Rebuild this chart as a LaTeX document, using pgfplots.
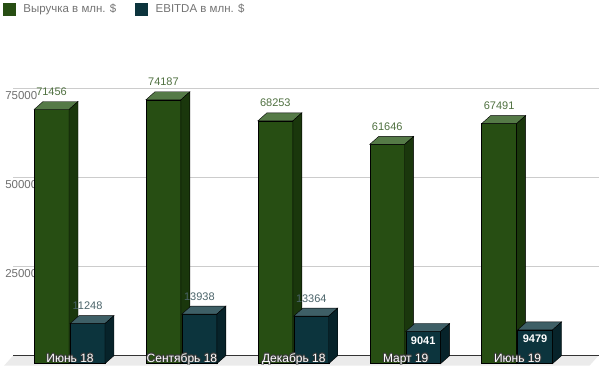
\documentclass[border=0pt]{standalone}
\usepackage{pgfplots}
\pgfplotsset{compat=1.18}
\usepackage{pgfplotstable}
\usepackage{fontspec}
\setmainfont{Liberation Sans}
\definecolor{gfront}{HTML}{274E13}
\definecolor{gtop}{HTML}{557A47}
\definecolor{gside}{HTML}{1A370C}
\definecolor{tfront}{HTML}{0C343D}
\definecolor{ttop}{HTML}{3E5F66}
\definecolor{tside}{HTML}{07232A}
\definecolor{glab}{HTML}{4F7040}
\definecolor{tlab}{HTML}{4A6369}
\definecolor{gridc}{HTML}{CCCCCC}
\definecolor{floorc}{HTML}{EBEBEB}
\definecolor{basec}{HTML}{333333}
\definecolor{labgray}{HTML}{707070}
\definecolor{legc}{HTML}{737373}
\definecolor{haloc}{HTML}{3A3A3A}

\newcommand\halo[3]{\begingroup
\def\hh##1##2{\rlap{\kern##1\raisebox{##2}{\textcolor{#1}{#3}}}}%
\hh{-0.8pt}{0pt}\hh{0.8pt}{0pt}\hh{0pt}{0.8pt}\hh{0pt}{-0.8pt}%
\hh{-0.56pt}{-0.56pt}\hh{0.56pt}{0.56pt}\hh{-0.56pt}{0.56pt}\hh{0.56pt}{-0.56pt}%
\textcolor{#2}{#3}\endgroup}
\newcommand\num[1]{\pgfmathprintnumber[fixed,precision=0,1000 sep={},assume math mode=true]{#1}}

\pgfplotstableread{
x rev
0 71456
1 74187
2 68253
3 61646
4 67491
}\revtab
\pgfplotstableread{
x ebitda
0 11248
1 13938
2 13364
3 9041
4 9479
}\ebtab

\pgfplotsset{
 box3d/.style n args={5}{%
   scatter, only marks, forget plot, mark=*, mark size=0pt,
   mark options={draw=none,fill=none},
   visualization depends on={rawy \as \val},
   scatter/@pre marker code/.code={%
     \edef\hgt{\fpeval{\val*0.00356}}%
     \edef\sidebot{\fpeval{8-\val*0.00356}}%
     \fill[fill=#3] (#1pt,0pt) rectangle (#2pt,-\hgt pt);
     \fill[fill=#4] (#1pt,0pt) -- (#2pt,0pt) -- ({(#2+9)*1pt},8pt) -- ({(#1+9)*1pt},8pt) -- cycle;
     \fill[fill=#5] (#2pt,0pt) -- ({(#2+9)*1pt},8pt) -- ({(#2+9)*1pt},\sidebot pt) -- (#2pt,-\hgt pt) -- cycle;
   },
   scatter/@post marker code/.code={}
 },
 labelplot/.style={only marks, forget plot, mark=*, mark size=0pt,
   mark options={draw=none,fill=none},
   visualization depends on={rawy \as \val}}
}

\begin{document}
\begin{tikzpicture}
\begin{axis}[
 scale only axis, width=599pt, height=366pt,
 xmin=-0.625, xmax=4.723214, ymin=-561.8, ymax=102247.2,
 axis line style={draw=none}, major tick length=0pt,
 axis on top, clip=false, scaled y ticks=false,
 xtick=\empty,
 ytick={27247,52247,77247},
 yticklabels={\halo{white}{labgray}{25000},\halo{white}{labgray}{50000},\halo{white}{labgray}{75000}},
 yticklabel style={anchor=north west, inner sep=0pt, xshift=5pt, yshift=-2pt, font=\fontsize{11.5}{13}\selectfont},
 legend columns=2,
 legend style={at={(0,1)}, anchor=north west, xshift=3pt, yshift=-3pt, draw=none, fill=none, inner sep=0pt, outer sep=0pt,
   font=\fontsize{11.5}{13}\selectfont, text=legc, nodes={inner sep=0pt},
   /tikz/every odd column/.append style={column sep=8pt},
   /tikz/every even column/.append style={column sep=19pt}},
]
\addlegendimage{legend image code/.code={\fill[gfront] (0pt,-6pt) rectangle (12pt,6pt);}}
\addlegendentry{Выручка в млн. \$}
\addlegendimage{legend image code/.code={\fill[tfront] (0pt,-6pt) rectangle (12pt,6pt);}}
\addlegendentry{EBITDA в млн. \$}

% floor and grid
\addplot[fill=floorc, draw=none, forget plot] coordinates {(-0.50893,2247) (4.72321,2247) (4.64286,-561.8) (-0.58929,-561.8)};
\addplot[gridc, line width=1pt, forget plot] coordinates {(-0.50893,27247) (4.72321,27247)};
\addplot[gridc, line width=1pt, forget plot] coordinates {(-0.50893,52247) (4.72321,52247)};
\addplot[gridc, line width=1pt, forget plot] coordinates {(-0.50893,77247) (4.72321,77247)};
\addplot[basec, line width=1pt, forget plot] coordinates {(-0.50893,2247) (4.72321,2247)};

% 3D boxes
\addplot[box3d={-36}{-1}{gfront}{gtop}{gside}] table[x=x,y=rev]{\revtab};
\addplot[box3d={0}{35}{tfront}{ttop}{tside}] table[x=x,y=ebitda]{\ebtab};

% value labels
\addplot[labelplot,
  nodes near coords={\num{\val}},
  every node near coord/.append style={anchor=base, xshift=-18.5pt, yshift=14pt, inner sep=0pt, text=glab, font=\fontsize{11}{13}\selectfont}]
  table[x=x,y=rev]{\revtab};
\addplot[labelplot,
  nodes near coords={\ifdim\val pt<10000pt \raisebox{-27pt}{\bfseries\color{white}\num{\val}}\else\num{\val}\fi},
  every node near coord/.append style={anchor=base, xshift=17.5pt, yshift=14pt, inner sep=0pt, text=tlab, font=\fontsize{11}{13}\selectfont}]
  table[x=x,y=ebitda]{\ebtab};

% category labels (drawn last, on top of the bars)
\addplot[only marks, forget plot, mark=*, mark size=0pt, mark options={draw=none,fill=none},
  point meta=explicit symbolic,
  nodes near coords={\halo{haloc}{white}{\pgfplotspointmeta}},
  every node near coord/.append style={anchor=base, yshift=3.5pt, inner sep=0pt, font=\fontsize{12}{14}\selectfont}]
  coordinates {(0,-561.8) [Июнь 18] (1,-561.8) [Сентябрь 18] (2,-561.8) [Декабрь 18] (3,-561.8) [Март 19] (4,-561.8) [Июнь 19]};
\end{axis}
\end{tikzpicture}
\end{document}
